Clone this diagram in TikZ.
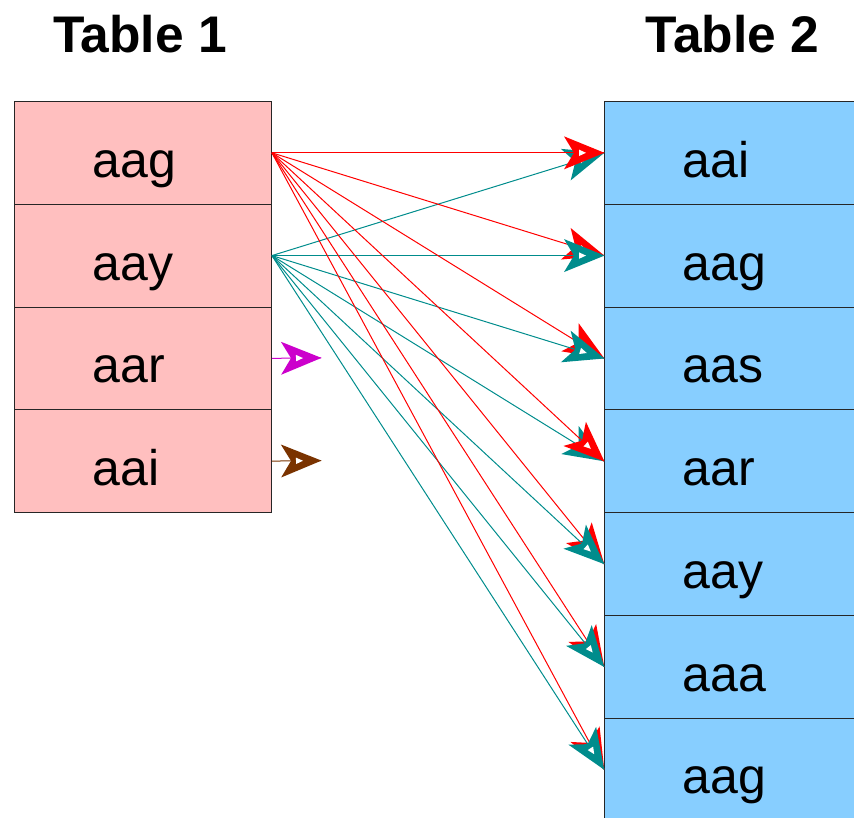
\documentclass[tikz,border=0pt]{standalone}
\usepackage{fontspec}
\setmainfont{Liberation Sans}
\usetikzlibrary{arrows.meta}
\definecolor{pinkc}{RGB}{255,191,191}
\definecolor{bluec}{RGB}{135,206,255}
\definecolor{tealc}{RGB}{0,140,140}
\definecolor{magc}{RGB}{204,0,204}
\definecolor{brownc}{RGB}{122,51,0}
\tikzset{
  cell/.style={draw=black!85, line width=0.9pt, anchor=north west,
    minimum width=257pt, minimum height=102.75pt, text width=101pt,
    inner xsep=78pt, inner ysep=0pt, align=left,
    text height=60pt, text depth=10.75pt, font=\fontsize{50}{60}\selectfont},
  lcell/.style={cell, fill=pinkc},
  rcell/.style={cell, fill=bluec},
  title/.style={font=\fontsize{51.5}{60}\selectfont\bfseries, anchor=base, inner sep=0pt},
  head/.pic={
    \fill (0.5pt,0pt) -- (-40pt,16.5pt) -- (-30pt,0pt) -- (-40pt,-16.5pt) -- cycle;
    \fill[white] (-25pt,-3.2pt) -- (-18pt,0pt) -- (-25pt,3.2pt) -- cycle;
  },
  tipat/.style={pos=1, sloped, allow upside down},
  redlink/.style={draw=red, line width=1pt},
  teallink/.style={draw=tealc, line width=1pt},
  maglink/.style={draw=magc, line width=1pt},
  brownlink/.style={draw=brownc, line width=1pt}
}
\begin{document}
\begin{tikzpicture}[x=1pt, y=-1pt]
\useasboundingbox (0,0) rectangle (854,817);
\clip (0,0) rectangle (854,817);
\node[title] (t1) at (140,52) {Table 1};
\node[title] (t2) at (732.5,52) {Table 2};
\node[lcell] (a1) at (14,101) {aag};
\node[lcell] (a2) at (14,203.75) {aay};
\node[lcell] (a3) at (14,306.5) {aar};
\node[lcell] (a4) at (14,409.25) {aai};
\node[rcell] (b1) at (604,101) {aai};
\node[rcell] (b2) at (604,203.75) {aag};
\node[rcell] (b3) at (604,306.5) {aas};
\node[rcell] (b4) at (604,409.25) {aar};
\node[rcell] (b5) at (604,512) {aay};
\node[rcell] (b6) at (604,614.75) {aaa};
\node[rcell] (b7) at (604,717.5) {aag};
\coordinate (m) at (321,357.9);
\coordinate (n) at (321,460.6);
% drawing order per target
\draw[teallink] (a2.east) -- (b1.west) pic[tipat, tealc] {head};
\draw[redlink] (a1.east) -- (b1.west) pic[tipat, red] {head};
\draw[redlink] (a1.east) -- (b2.west) pic[tipat, red] {head};
\draw[teallink] (a2.east) -- (b2.west) pic[tipat, tealc] {head};
\draw[redlink] (a1.east) -- (b3.west) pic[tipat, red] {head};
\draw[teallink] (a2.east) -- (b3.west) pic[tipat, tealc] {head};
\draw[teallink] (a2.east) -- (b4.west) pic[tipat, tealc] {head};
\draw[redlink] (a1.east) -- (b4.west) pic[tipat, red] {head};
\draw[redlink] (a1.east) -- (b5.west) pic[tipat, red] {head};
\draw[teallink] (a2.east) -- (b5.west) pic[tipat, tealc] {head};
\draw[redlink] (a1.east) -- (b6.west) pic[tipat, red] {head};
\draw[teallink] (a2.east) -- (b6.west) pic[tipat, tealc] {head};
\draw[redlink] (a1.east) -- (b7.west) pic[tipat, red] {head};
\draw[teallink] (a2.east) -- (b7.west) pic[tipat, tealc] {head};
\draw[maglink] (a3.east) -- (m) pic[tipat, magc] {head};
\draw[brownlink] (a4.east) -- (n) pic[tipat, brownc] {head};
\end{tikzpicture}
\end{document}
